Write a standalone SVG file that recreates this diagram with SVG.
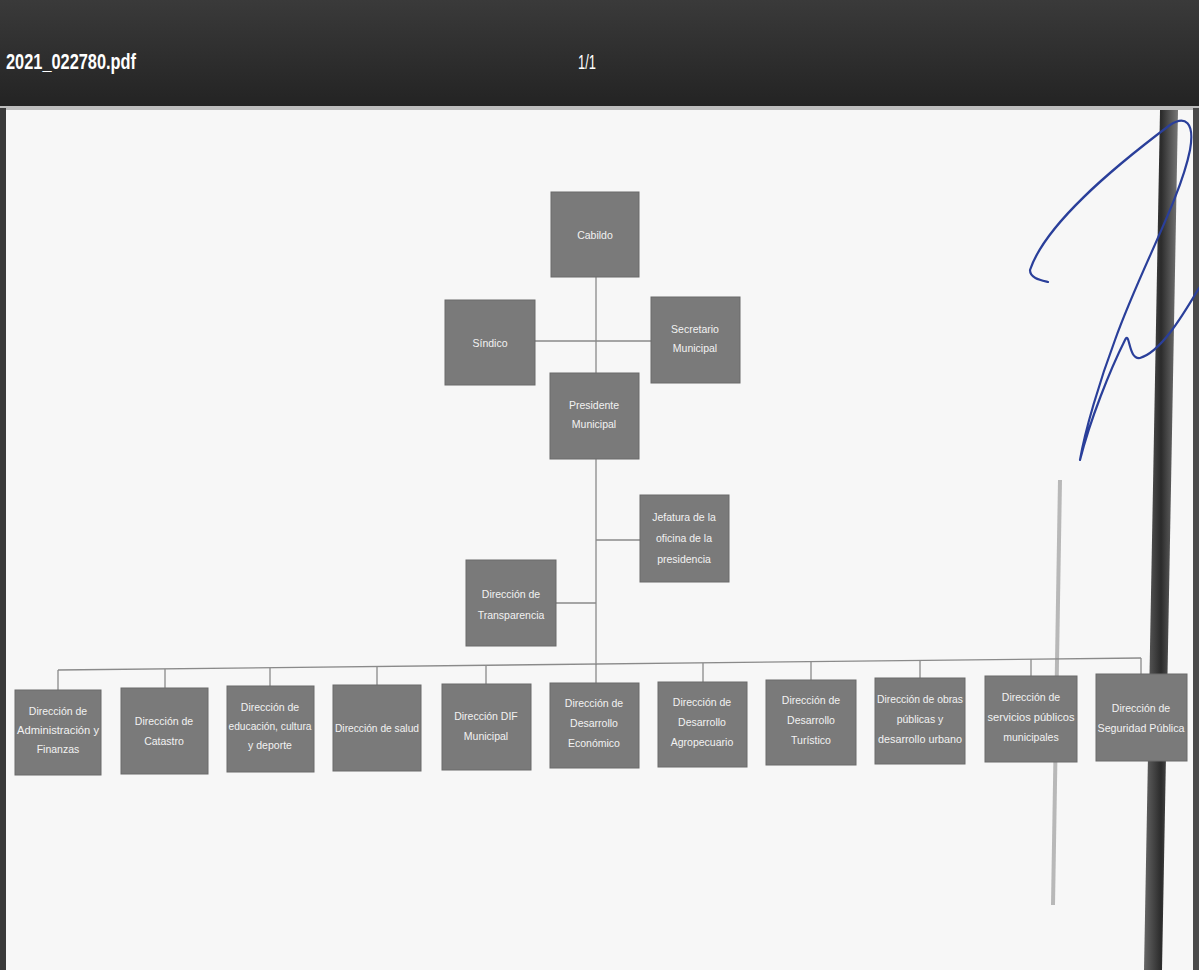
<svg xmlns="http://www.w3.org/2000/svg" width="1199" height="970" viewBox="0 0 1199 970">
<defs>
<linearGradient id="bar" x1="0" y1="0" x2="0" y2="1">
<stop offset="0" stop-color="#3a3a3a"/>
<stop offset="1" stop-color="#232323"/>
</linearGradient>
<linearGradient id="pole" x1="0" y1="0" x2="1" y2="0">
<stop offset="0" stop-color="#666"/>
<stop offset="0.5" stop-color="#2b2b2b"/>
<stop offset="1" stop-color="#777"/>
</linearGradient>
</defs>
<style>
.box{fill:#7a7a7a;stroke:#6a6a6a;stroke-width:1}
.t{font-family:"Liberation Sans",Arial,sans-serif;font-size:10.5px;fill:#f2f2f2;text-anchor:middle}
.ln{stroke:#8a8a8a;stroke-width:1.3;fill:none}
.hdr{font-family:"Liberation Sans",Arial,sans-serif;fill:#ffffff}
</style>
<rect x="0" y="0" width="1199" height="970" fill="#f7f7f7"/>
<rect x="0" y="0" width="1199" height="108" fill="url(#bar)"/>
<rect x="0" y="106" width="1199" height="4" fill="#bdbdbd"/>
<text class="hdr" x="6" y="69" font-size="22" font-weight="bold" textLength="130" lengthAdjust="spacingAndGlyphs">2021_022780.pdf</text>
<text class="hdr" x="578" y="69" font-size="20" textLength="18" lengthAdjust="spacingAndGlyphs">1/1</text>
<rect x="0" y="108" width="6" height="862" fill="#3a3a3a"/>
<rect x="1193" y="108" width="6" height="862" fill="#4a4a4a"/>
<line x1="1060" y1="480" x2="1053" y2="905" stroke="#b8b8b8" stroke-width="4"/>
<polygon points="1160,110 1178,110 1162,970 1144,970" fill="url(#pole)"/>
<g id="connectors">
<line class="ln" x1="596" y1="277" x2="596" y2="665"/>
<line class="ln" x1="535" y1="341" x2="651" y2="341"/>
<line class="ln" x1="596" y1="540" x2="640" y2="540"/>
<line class="ln" x1="556" y1="603" x2="596" y2="603"/>
<line class="ln" x1="58" y1="670" x2="1141" y2="658"/>
<line class="ln" x1="58" y1="670" x2="58" y2="690"/>
<line class="ln" x1="165" y1="669" x2="165" y2="688"/>
<line class="ln" x1="270" y1="668" x2="270" y2="686"/>
<line class="ln" x1="377" y1="666" x2="377" y2="685"/>
<line class="ln" x1="486" y1="665" x2="486" y2="684"/>
<line class="ln" x1="596" y1="664" x2="596" y2="683"/>
<line class="ln" x1="703" y1="663" x2="703" y2="682"/>
<line class="ln" x1="811" y1="662" x2="811" y2="680"/>
<line class="ln" x1="920" y1="661" x2="920" y2="678"/>
<line class="ln" x1="1031" y1="659" x2="1031" y2="676"/>
<line class="ln" x1="1141" y1="658" x2="1141" y2="674"/>
</g>
<g id="cabildo"><rect class="box" x="551" y="192" width="88" height="85"/><text class="t" x="595" y="239">Cabildo</text></g>
<g id="sindico"><rect class="box" x="445" y="300" width="90" height="85"/><text class="t" x="490" y="347">Síndico</text></g>
<g id="secretario"><rect class="box" x="651" y="297" width="89" height="86"/><text class="t" x="695" y="333">Secretario</text><text class="t" x="695" y="352">Municipal</text></g>
<g id="presidente"><rect class="box" x="550" y="373" width="89" height="86"/><text class="t" x="594" y="409">Presidente</text><text class="t" x="594" y="428">Municipal</text></g>
<g id="jefatura"><rect class="box" x="640" y="495" width="89" height="87"/><text class="t" x="684" y="521">Jefatura de la</text><text class="t" x="684" y="542">oficina de la</text><text class="t" x="684" y="563">presidencia</text></g>
<g id="transparencia"><rect class="box" x="466" y="560" width="90" height="86"/><text class="t" x="511" y="598">Dirección de</text><text class="t" x="511" y="619">Transparencia</text></g>
<g id="administracion"><rect class="box" x="15" y="690" width="86" height="85"/><text class="t" x="58" y="715">Dirección de</text><text class="t" x="58" y="734" textLength="82" lengthAdjust="spacingAndGlyphs">Administración y</text><text class="t" x="58" y="753">Finanzas</text></g>
<g id="catastro"><rect class="box" x="121" y="688" width="87" height="86"/><text class="t" x="164" y="725">Dirección de</text><text class="t" x="164" y="745">Catastro</text></g>
<g id="educacion"><rect class="box" x="227" y="686" width="87" height="86"/><text class="t" x="270" y="711">Dirección de</text><text class="t" x="270" y="730" textLength="83" lengthAdjust="spacingAndGlyphs">educación, cultura</text><text class="t" x="270" y="749">y deporte</text></g>
<g id="salud"><rect class="box" x="333" y="685" width="88" height="86"/><text class="t" x="377" y="732" textLength="84" lengthAdjust="spacingAndGlyphs">Dirección de salud</text></g>
<g id="dif"><rect class="box" x="442" y="684" width="89" height="86"/><text class="t" x="486" y="720">Dirección DIF</text><text class="t" x="486" y="740">Municipal</text></g>
<g id="economico"><rect class="box" x="550" y="683" width="89" height="85"/><text class="t" x="594" y="707">Dirección de</text><text class="t" x="594" y="727">Desarrollo</text><text class="t" x="594" y="747">Económico</text></g>
<g id="agropecuario"><rect class="box" x="658" y="682" width="89" height="85"/><text class="t" x="702" y="706">Dirección de</text><text class="t" x="702" y="726">Desarrollo</text><text class="t" x="702" y="746">Agropecuario</text></g>
<g id="turistico"><rect class="box" x="766" y="680" width="90" height="85"/><text class="t" x="811" y="704">Dirección de</text><text class="t" x="811" y="724">Desarrollo</text><text class="t" x="811" y="744">Turístico</text></g>
<g id="obras"><rect class="box" x="875" y="678" width="90" height="86"/><text class="t" x="920" y="703" textLength="86" lengthAdjust="spacingAndGlyphs">Dirección de obras</text><text class="t" x="920" y="723">públicas y</text><text class="t" x="920" y="743" textLength="84" lengthAdjust="spacingAndGlyphs">desarrollo urbano</text></g>
<g id="servicios"><rect class="box" x="985" y="676" width="92" height="86"/><text class="t" x="1031" y="701">Dirección de</text><text class="t" x="1031" y="721" textLength="87" lengthAdjust="spacingAndGlyphs">servicios públicos</text><text class="t" x="1031" y="741">municipales</text></g>
<g id="seguridad"><rect class="box" x="1096" y="674" width="91" height="87"/><text class="t" x="1141" y="712">Dirección de</text><text class="t" x="1141" y="732" textLength="87" lengthAdjust="spacingAndGlyphs">Seguridad Pública</text></g>
<path d="M1048,282 C1040,280 1030,278 1030,270 C1045,225 1110,170 1170,125 C1185,115 1195,122 1190,150 C1180,200 1140,270 1115,340 C1100,380 1085,430 1080,460 C1090,420 1110,370 1125,340 C1130,330 1128,360 1140,358 C1160,352 1180,320 1199,288" fill="none" stroke="#2a3f9a" stroke-width="2.2" stroke-linecap="round" stroke-linejoin="round"/>
</svg>
